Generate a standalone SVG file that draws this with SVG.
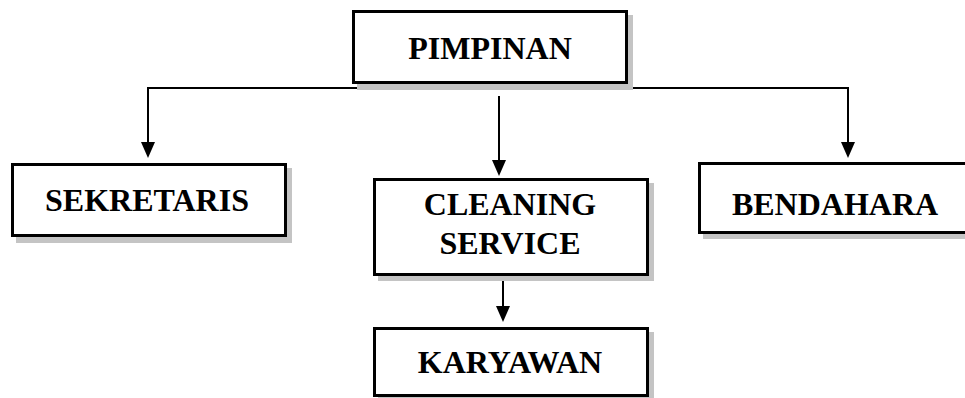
<svg xmlns="http://www.w3.org/2000/svg" width="965" height="398" viewBox="0 0 965 398">
<defs>
<style>
.box{fill:#fff;stroke:#000;stroke-width:3}
.shadow{fill:#c4c4c4}
.lbl{font-family:"Liberation Serif","Times New Roman",serif;font-weight:bold;font-size:32px;fill:#000;text-anchor:middle}
.con{stroke:#000;stroke-width:2;fill:none}
.head{fill:#000}
</style>
</defs>
<rect width="965" height="398" fill="#fff"/>
<g id="connectors">
<path class="con" d="M148,142 V88 H848 V142"/>
<path class="head" d="M141,142 L155,142 L148,158 Z"/>
<path class="head" d="M841,142 L855,142 L848,158 Z"/>
<path class="con" d="M499,96 V160"/>
<path class="head" d="M492,160 L506,160 L499,176 Z"/>
<path class="con" d="M503,276 V306"/>
<path class="head" d="M496,306 L510,306 L503,322 Z"/>
</g>
<g id="pimpinan">
<rect class="shadow" x="357" y="15" width="276" height="75"/>
<rect class="box" x="353.5" y="11.5" width="273" height="71"/>
<text class="lbl" x="490" y="59">PIMPINAN</text>
</g>
<g id="sekretaris">
<rect class="shadow" x="16" y="168" width="276" height="75"/>
<rect class="box" x="12.5" y="164.5" width="273" height="71"/>
<text class="lbl" x="147" y="211">SEKRETARIS</text>
</g>
<g id="cleaning">
<rect class="shadow" x="378" y="183" width="276" height="98"/>
<rect class="box" x="374.5" y="179.5" width="273" height="95"/>
<text class="lbl" x="510" y="215">CLEANING</text>
<text class="lbl" x="510" y="254">SERVICE</text>
</g>
<g id="karyawan">
<rect class="shadow" x="378" y="332" width="276" height="75"/>
<rect class="box" x="374.5" y="328.5" width="273" height="67"/>
<text class="lbl" x="510" y="373">KARYAWAN</text>
</g>
<g id="bendahara">
<rect class="shadow" x="703" y="167" width="280" height="72"/>
<rect class="box" x="699.5" y="163.5" width="280" height="69"/>
<text class="lbl" x="835" y="215">BENDAHARA</text>
</g>
</svg>
